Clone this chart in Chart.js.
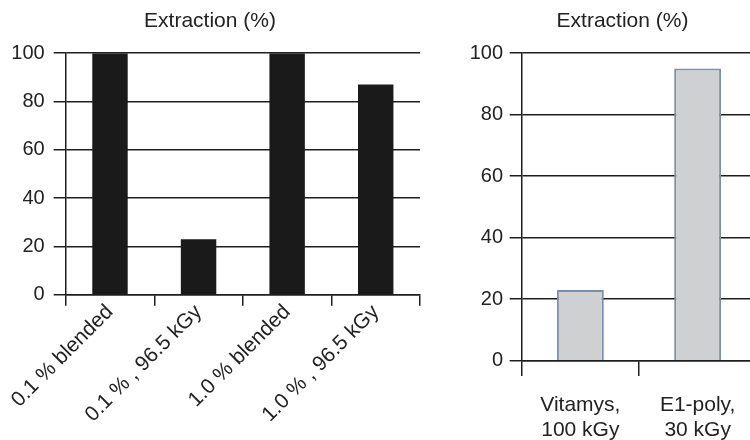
<!DOCTYPE html>
<html>
<head>
<meta charset="utf-8">
<script src="https://cdn.jsdelivr.net/npm/chart.js@4.4.1/dist/chart.umd.min.js"></script>
<style>
  html, body { margin: 0; padding: 0; background: #ffffff; width: 750px; height: 440px; overflow: hidden; position: relative; }
  canvas { position: absolute; top: 0; }
  #left { left: 0; }
  #right { left: 460px; }
</style>
</head>
<body>
<canvas id="left" width="421" height="440"></canvas>
<canvas id="right" width="325" height="440"></canvas>
<script>
// Extraction of vitamin E blends and commercial liners
const titleText = 'Extraction (%)';
const blendCategories = ['0.1 % blended', '0.1 % , 96.5 kGy', '1.0 % blended', '1.0 % , 96.5 kGy'];
const blendValues = [100, 23, 100, 87];
const linerCategories = [['Vitamys,', '100 kGy'], ['E1-poly,', '30 kGy']];
const linerValues = [23, 95];
const yTicks = [0, 20, 40, 60, 80, 100];

const FONT = '"Liberation Sans", Arial, Helvetica, sans-serif';
const INK = '#1e1e1e';
const TEXT = '#222222';

function makeOptions(cfg) {
  const scales = {
    x: {
      grid: {
        display: true,
        offset: true,
        drawOnChartArea: false,
        drawTicks: true,
        tickLength: cfg.xTickLength,
        color: INK,
        lineWidth: 1.5
      },
      border: { display: true, color: INK, width: 1.5 },
      ticks: {
        color: TEXT,
        font: { family: FONT, size: cfg.xFont, lineHeight: 1.2 },
        padding: cfg.xPad,
        minRotation: cfg.rotation,
        maxRotation: cfg.rotation,
        autoSkip: false
      },
      afterFit: s => { s.height = cfg.xHeight; }
    },
    y: {
      min: 0,
      max: 100,
      afterBuildTicks: s => { s.ticks = yTicks.map(v => ({ value: v })); },
      grid: {
        color: INK,
        lineWidth: 1.5,
        drawTicks: true,
        tickLength: 12
      },
      border: { display: true, color: INK, width: 1.5 },
      ticks: {
        color: TEXT,
        font: { family: FONT, size: 20 },
        padding: cfg.yPad
      },
      afterFit: s => { s.width = cfg.yWidth; }
    }
  };
  if (cfg.rightGap) {
    // empty spacer on the right: the plot runs past the page edge
    scales.gap = {
      type: 'linear',
      position: 'right',
      display: true,
      grid: { display: false },
      border: { display: false },
      ticks: { display: false },
      afterFit: s => { s.width = cfg.rightGap; }
    };
  }
  return {
    responsive: false,
    devicePixelRatio: 1,
    animation: false,
    layout: { padding: { left: 0, right: cfg.padRight, top: 0, bottom: 0 } },
    plugins: {
      legend: { display: false },
      tooltip: { enabled: false },
      title: {
        display: true,
        text: titleText,
        color: TEXT,
        font: { family: FONT, size: 21, weight: 'normal', lineHeight: 1.2 },
        padding: { top: 9, bottom: 19 }
      }
    },
    scales: scales
  };
}

new Chart(document.getElementById('left'), {
  type: 'bar',
  data: {
    labels: blendCategories,
    datasets: [{
      data: blendValues,
      backgroundColor: '#1a1a1a',
      borderWidth: 0,
      barPercentage: 0.4,
      categoryPercentage: 1.0
    }]
  },
  options: makeOptions({
    padRight: 1, rightGap: 0,
    yWidth: 65.7, yPad: 9,
    xHeight: 145.3, xTickLength: 11, xPad: -6, xFont: 21, rotation: 45
  })
});

new Chart(document.getElementById('right'), {
  type: 'bar',
  data: {
    labels: linerCategories,
    datasets: [{
      data: linerValues,
      backgroundColor: '#cfd0d1',
      borderColor: '#7b8fab',
      borderWidth: 2,
      barPercentage: 0.4,
      categoryPercentage: 1.0
    }]
  },
  options: makeOptions({
    padRight: 0, rightGap: 28.7,
    yWidth: 61.7, yPad: 6.7,
    xHeight: 79.3, xTickLength: 15.3, xPad: 16.7, xFont: 21, rotation: 0
  })
});
</script>
</body>
</html>
